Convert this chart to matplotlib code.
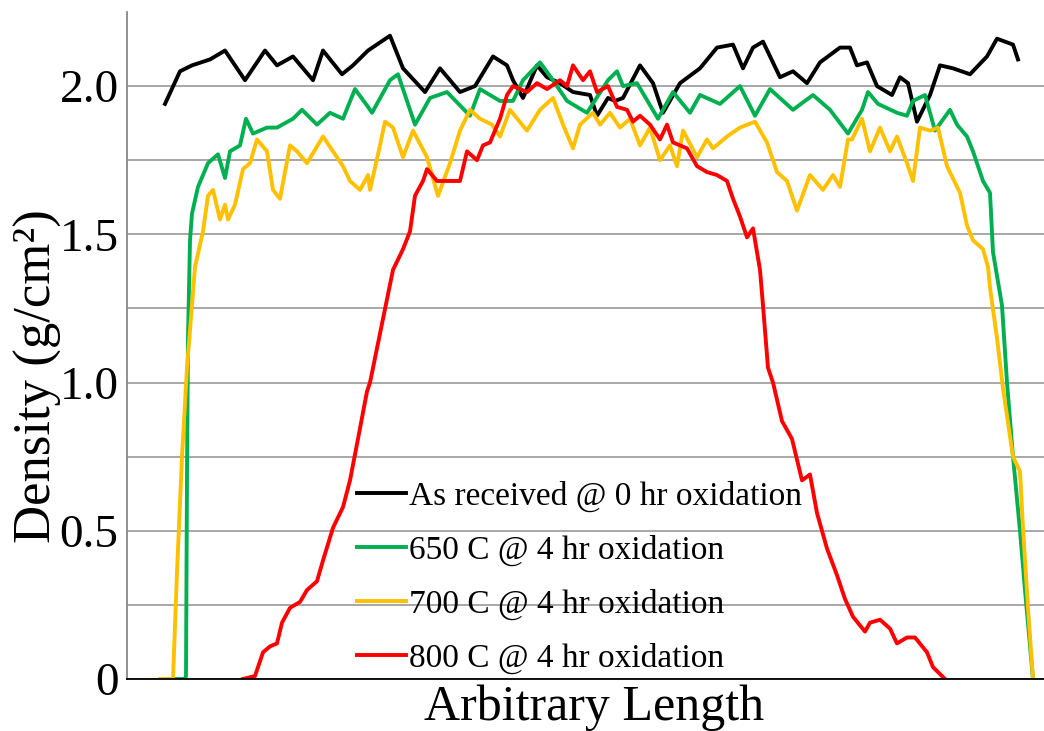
import matplotlib
matplotlib.use('Agg')
import matplotlib.pyplot as plt
from matplotlib.ticker import FixedLocator, FuncFormatter

# Density profiles along the sample (x in arbitrary length units)
x_asrec = [38, 53, 65, 83, 98, 118, 138, 150, 166, 186, 196, 215, 226, 241, 263, 276, 298, 313,
           333, 348, 366, 380, 386, 396, 410, 420, 433, 446, 463, 470, 481, 488, 496, 513, 526,
           536, 553, 573, 590, 606, 616, 626, 636, 653, 666, 680, 693, 713, 723, 730, 740, 750,
           765, 773, 781, 790, 803, 813, 826, 843, 860, 870, 886, 891]
d_asrec = [1.94, 2.05, 2.07, 2.09, 2.12, 2.02, 2.12, 2.07, 2.10, 2.02, 2.12, 2.04, 2.07, 2.12, 2.17,
           2.06, 1.98, 2.06, 1.98, 2.00, 2.10, 2.07, 2.02, 1.96, 2.07, 2.03, 2.01, 1.98, 1.97, 1.90,
           1.96, 1.95, 1.96, 2.07, 2.01, 1.91, 2.01, 2.06, 2.13, 2.14, 2.06, 2.13, 2.15, 2.03, 2.05,
           2.01, 2.08, 2.13, 2.13, 2.07, 2.08, 2.00, 1.97, 2.03, 2.01, 1.88, 1.97, 2.07, 2.06, 2.04,
           2.10, 2.16, 2.14, 2.09]

x_650 = [38, 58, 59, 60, 61, 63, 65, 71, 81, 91, 98, 103, 113, 119, 126, 140, 150, 166, 175, 190,
         203, 216, 228, 241, 245, 263, 271, 288, 303, 320, 343, 353, 373, 386, 396, 413, 426, 440,
         460, 481, 490, 496, 510, 531, 546, 563, 573, 593, 613, 628, 643, 666, 686, 703, 721, 735,
         741, 751, 770, 780, 786, 798, 808, 823, 830, 840, 846, 856, 863, 866, 875, 880, 886, 893,
         898, 906]
d_650 = [0.0, 0.0, 0.01, 0.69, 1.15, 1.48, 1.57, 1.66, 1.74, 1.77, 1.69, 1.78, 1.80, 1.89, 1.84,
         1.86, 1.86, 1.89, 1.92, 1.87, 1.91, 1.89, 1.99, 1.93, 1.91, 2.02, 2.04, 1.87, 1.96, 1.98,
         1.90, 1.99, 1.95, 1.95, 2.02, 2.08, 2.02, 1.95, 1.91, 2.02, 2.05, 2.00, 2.01, 1.89, 1.98,
         1.91, 1.97, 1.94, 2.00, 1.90, 1.99, 1.92, 1.97, 1.92, 1.84, 1.92, 1.98, 1.94, 1.91, 1.90,
         1.95, 1.97, 1.85, 1.92, 1.87, 1.83, 1.78, 1.68, 1.64, 1.44, 1.26, 1.00, 0.75, 0.50, 0.30,
         0.0]

x_700 = [33, 46, 50, 55, 60, 68, 70, 76, 81, 86, 93, 98, 101, 108, 116, 123, 130, 140, 146, 153,
         163, 170, 180, 196, 206, 216, 223, 233, 241, 243, 253, 258, 266, 276, 286, 300, 311, 323,
         333, 343, 353, 365, 373, 383, 400, 413, 426, 436, 446, 453, 466, 473, 483, 493, 503, 513,
         523, 533, 543, 550, 556, 570, 580, 586, 600, 613, 628, 640, 650, 660, 670, 683, 696, 706,
         713, 721, 725, 735, 743, 753, 763, 770, 780, 786, 793, 803, 811, 820, 833, 840, 846, 856,
         861, 863, 870, 876, 886, 893, 896, 901, 906]
d_700 = [0.0, 0.0, 0.36, 0.75, 1.05, 1.39, 1.42, 1.51, 1.63, 1.65, 1.55, 1.60, 1.55, 1.60, 1.72,
         1.74, 1.82, 1.78, 1.65, 1.62, 1.80, 1.78, 1.74, 1.83, 1.78, 1.73, 1.68, 1.65, 1.70, 1.65,
         1.80, 1.88, 1.86, 1.76, 1.85, 1.76, 1.63, 1.74, 1.85, 1.92, 1.89, 1.87, 1.83, 1.92, 1.85,
         1.92, 1.96, 1.87, 1.79, 1.87, 1.91, 1.87, 1.91, 1.86, 1.89, 1.80, 1.86, 1.75, 1.80, 1.73,
         1.85, 1.76, 1.82, 1.79, 1.83, 1.86, 1.88, 1.81, 1.71, 1.68, 1.58, 1.70, 1.65, 1.70, 1.66,
         1.82, 1.82, 1.89, 1.78, 1.86, 1.78, 1.83, 1.74, 1.68, 1.86, 1.85, 1.86, 1.73, 1.64, 1.53,
         1.48, 1.45, 1.39, 1.32, 1.15, 0.98, 0.75, 0.70, 0.51, 0.24, 0.0]

x_800 = [116, 128, 136, 143, 150, 155, 163, 173, 180, 190, 196, 206, 216, 223, 231, 240, 243, 266,
         276, 283, 288, 296, 300, 310, 320, 333, 340, 350, 356, 363, 373, 380, 386, 400, 410, 420,
         433, 440, 446, 456, 463, 470, 481, 490, 500, 506, 513, 523, 533, 540, 546, 560, 570, 580,
         590, 600, 606, 613, 620, 626, 633, 636, 641, 646, 655, 665, 670, 675, 683, 690, 700, 710,
         718, 726, 738, 743, 753, 763, 770, 780, 788, 800, 806, 818]
d_800 = [0.0, 0.01, 0.09, 0.11, 0.12, 0.19, 0.24, 0.26, 0.30, 0.33, 0.40, 0.51, 0.58, 0.67, 0.81,
         0.97, 1.00, 1.38, 1.45, 1.51, 1.63, 1.68, 1.72, 1.68, 1.68, 1.68, 1.78, 1.75, 1.80, 1.81,
         1.89, 1.97, 2.00, 1.98, 2.01, 1.99, 2.02, 2.00, 2.07, 2.02, 2.05, 1.98, 2.00, 1.93, 1.92,
         1.88, 1.90, 1.87, 1.82, 1.87, 1.81, 1.79, 1.73, 1.71, 1.70, 1.68, 1.62, 1.56, 1.49, 1.52,
         1.38, 1.26, 1.05, 1.00, 0.87, 0.81, 0.74, 0.67, 0.69, 0.56, 0.44, 0.35, 0.27, 0.21, 0.16,
         0.19, 0.20, 0.17, 0.12, 0.14, 0.14, 0.09, 0.04, 0.0]

labels = ['As received @ 0 hr oxidation', '650 C @ 4 hr oxidation',
          '700 C @ 4 hr oxidation', '800 C @ 4 hr oxidation']
colors = ['#000000', '#00b050', '#ffc000', '#ff0000']
y_grid = [0, 0.25, 0.5, 0.75, 1.0, 1.25, 1.5, 1.75, 2.0]

plt.rcParams['font.family'] = ['Liberation Serif', 'DejaVu Serif']

fig = plt.figure(figsize=(10.44, 7.31), dpi=100)
ax = fig.add_axes([127 / 1044, 52 / 731, 917 / 1044, 667 / 731])

series = [(x_asrec, d_asrec), (x_650, d_650), (x_700, d_700), (x_800, d_800)]
for (xs, ds), lab, c in zip(series, labels, colors):
    ax.plot(xs, ds, color=c, lw=2.8, label=lab, solid_joinstyle='round')

ax.set_xlim(0, 917)
ax.set_ylim(0, 2.25)
ax.yaxis.set_major_locator(FixedLocator(y_grid))
# label only the half-unit lines
ax.yaxis.set_major_formatter(FuncFormatter(
    lambda v, _: '' if abs(v * 2 - round(v * 2)) > 1e-6 else ('0' if v == 0 else f'{v:.1f}')))
ax.set_xticks([])
ax.grid(axis='y', color='#a0a0a0', lw=1.3)
ax.set_axisbelow(True)
ax.tick_params(axis='y', length=0, labelsize=34, pad=6)

for s in ['top', 'right']:
    ax.spines[s].set_visible(False)
ax.spines['left'].set_color('#888888')
ax.spines['left'].set_linewidth(1.3)
ax.spines['bottom'].set_color('black')
ax.spines['bottom'].set_linewidth(1.3)

ax.set_ylabel('Density (g/cm²)', fontsize=38)
ax.yaxis.set_label_coords(-0.071, 0.454)
ax.set_xlabel('Arbitrary Length', fontsize=36, labelpad=6)
ax.xaxis.set_label_coords(0.509, -0.008)

leg = ax.legend(loc='lower left', bbox_to_anchor=(0.251, 0.008), frameon=False, fontsize=24,
                handlelength=1.45, handletextpad=0.1, labelspacing=0.68, borderaxespad=0,
                borderpad=0)

fig.savefig('out.png', dpi=100)
